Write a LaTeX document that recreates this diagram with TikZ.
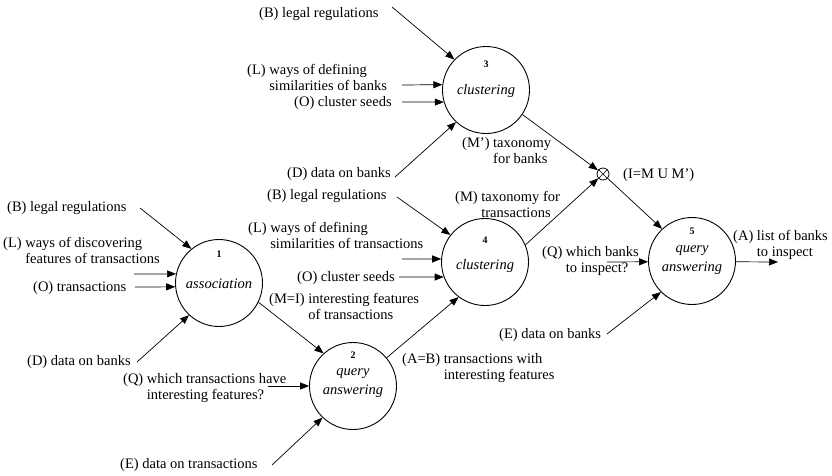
\documentclass[tikz,border=0pt]{standalone}
\usepackage{fontspec}
\setmainfont{Liberation Serif}
\usetikzlibrary{arrows.meta}
\newcommand\twol[3]{\begin{tabular}[t]{@{}l@{}l@{}}#1\ \mbox{}&#2\\&#3\end{tabular}}
\begin{document}
\begin{tikzpicture}[x=1pt,y=-1pt,
  proc/.style={circle,draw,line width=0.9pt,minimum size=87pt,inner sep=0pt},
  lbl/.style={anchor=base west,inner sep=0pt,font=\fontsize{14.5}{16.5}\selectfont},
  num/.style={inner sep=0pt,font=\bfseries\fontsize{10}{12}\selectfont},
  pname/.style={inner sep=0pt,font=\itshape\fontsize{14.5}{18.5}\selectfont},
  flow/.style={line width=0.7pt,-{Triangle[length=9pt,width=7pt]}},
]
\useasboundingbox (0,0) rectangle (832,475);
% processes
\node[proc] (c1) at (219,283) {};
\node[proc] (c2) at (353,386) {};
\node[proc] (c3) at (486,90) {};
\node[proc] (c4) at (485,262) {};
\node[proc] (c5) at (692,261) {};
\node[circle,draw,line width=0.8pt,minimum size=12pt,inner sep=0pt] (ot) at (603,174) {};
\draw[line width=0.6pt] (ot.45) -- (ot.225) (ot.135) -- (ot.315);
% inside texts
\node[num] (n1) at (219,254) {1};
\node[pname] (t1) at (219,284) {association};
\node[num] (n2) at (353,355) {2};
\node[pname,align=center] (t2) at (353,383) {query\\answering};
\node[num] (n3) at (486,64) {3};
\node[pname] (t3) at (486,91) {clustering};
\node[num] (n4) at (485,240) {4};
\node[pname] (t4) at (485,266) {clustering};
\node[num] (n5) at (692,231) {5};
\node[pname,align=center] (t5) at (692,260) {query\\answering};
% labels
\node[lbl] (lB1) at (7,211) {(B) legal regulations};
\node[lbl] (lL1) at (3,247) {\twol{(L)}{ways of discovering}{features of transactions}};
\node[lbl] (lO1) at (33,291) {(O) transactions};
\node[lbl] (lD1) at (27,365) {(D) data on banks};
\node[lbl] (lMI) at (269,303) {\twol{(M=I)}{interesting features}{of transactions}};
\node[lbl] (lQ2) at (123,383) {\twol{(Q)}{which transactions have}{interesting features?}};
\node[lbl] (lE2) at (120,468) {(E) data on transactions};
\node[lbl] (lAB) at (402,363) {\twol{(A=B)}{transactions with}{interesting features}};
\node[lbl] (lB3) at (259,17) {(B) legal regulations};
\node[lbl] (lL3) at (247,74) {\twol{(L)}{ways of defining}{similarities of banks}};
\node[lbl] (lO3) at (294,106) {(O) cluster seeds};
\node[lbl] (lD3) at (287,177) {(D) data on banks};
\node[lbl] (lMp) at (462,147) {\twol{(M')}{taxonomy}{for banks}};
\node[lbl] (lB4) at (267,199) {(B) legal regulations};
\node[lbl] (lL4) at (248,232) {\twol{(L)}{ways of defining}{similarities of transactions}};
\node[lbl] (lO4) at (297,281) {(O) cluster seeds};
\node[lbl] (lM) at (455,201) {\twol{(M)}{taxonomy for}{transactions}};
\node[lbl] (lI) at (623,178) {(I=M U M')};
\node[lbl] (lQ5) at (542,256) {\twol{(Q)}{which banks}{to inspect?}};
\node[lbl] (lE5) at (499,338) {(E) data on banks};
\node[lbl] (lA) at (733,240) {\twol{(A)}{list of banks}{to inspect}};
% free ends
\coordinate (sB1) at (140,208);
\coordinate (sL1) at (134,274);
\coordinate (sO1) at (135,287);
\coordinate (sD1) at (137,362);
\coordinate (sQ2) at (268,386);
\coordinate (sE2) at (272,465);
\coordinate (sB3) at (392,7);
\coordinate (sL3) at (402,85);
\coordinate (sO3) at (402,102);
\coordinate (sD3) at (395,177);
\coordinate (sB4) at (397,197);
\coordinate (sL4) at (402,259);
\coordinate (sO4) at (399,277);
\coordinate (sQ5) at (607,262);
\coordinate (sE5) at (607,334);
\coordinate (oA) at (778,262);
% flows
\draw[flow] (sB1) -- (c1.129);
\draw[flow] (sL1) -- (c1.168);
\draw[flow] (sO1) -- (c1.185);
\draw[flow] (sD1) -- (c1.227);
\draw[flow] (c1.334) -- (c2.132);
\draw[flow] (sQ2) -- (c2.180);
\draw[flow] (sE2) -- (c2.226);
\draw[flow] (c2.40) -- (c4.233);
\draw[flow] (sB3) -- (c3.136);
\draw[flow] (sL3) -- (c3.173);
\draw[flow] (sO3) -- (c3.196);
\draw[flow] (sD3) -- (c3.227);
\draw[flow] (c3.326) -- (ot);
\draw[flow] (sB4) -- (c4.142);
\draw[flow] (sL4) -- (c4.176);
\draw[flow] (sO4) -- (c4.200);
\draw[flow] (c4.23) -- (ot);
\draw[flow] (ot) -- (c5.133);
\draw[flow] (sQ5) -- (c5.181);
\draw[flow] (sE5) -- (c5.225);
\draw[flow] (c5.359) -- (oA);
\end{tikzpicture}
\end{document}
